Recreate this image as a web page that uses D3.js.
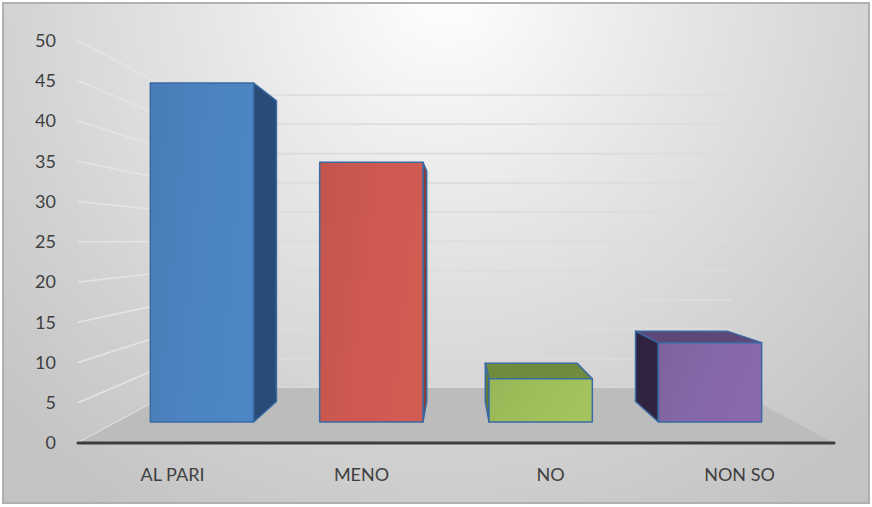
<!DOCTYPE html>
<html>
<head>
<meta charset="utf-8">
<script src="https://cdn.jsdelivr.net/npm/d3@7"></script>
<style>
  html, body { margin: 0; padding: 0; background: #ffffff; }
  svg { display: block; }
  .axis text { font-family: Lato, "Open Sans", sans-serif; fill: #404040; }
</style>
</head>
<body>
<svg id="chart" width="872" height="507"></svg>
<script>
// Survey answers (percent)
const categories = ["AL PARI", "MENO", "NO", "NON SO"];
const values = [47, 36, 6, 11];
const yTicks = [0, 5, 10, 15, 20, 25, 30, 35, 40, 45, 50];

// Face colours per category: front, top, side
const frontColors = ["#4a80bc", "#c9574f", "#9bbb59", "#8265a3"];
const topColors = ["#3a679b", "#a84640", "#6f8b3d", "#5d4879"];
const sideColors = ["#264c77", "#8e3a37", "#5f7a30", "#2f2340"];

const W = 872, H = 507;
const svg = d3.select("#chart");
const defs = svg.append("defs");

// Chart area background: soft radial light from the top centre
const bg = defs.append("radialGradient").attr("id", "bg")
  .attr("gradientUnits", "userSpaceOnUse")
  .attr("cx", 445).attr("cy", -10).attr("r", 620);
[[0, "#ffffff"], [0.12, "#f7f7f7"], [0.4, "#e5e5e5"], [0.7, "#d3d3d3"], [1, "#c3c3c3"]]
  .forEach(([o, c]) => bg.append("stop").attr("offset", o).attr("stop-color", c));

svg.append("rect").attr("x", 3).attr("y", 3).attr("width", 866).attr("height", 500)
  .attr("fill", "url(#bg)").attr("stroke", "#b0b0b0").attr("stroke-width", 2);

// Front-plane scales
const x = d3.scaleBand().domain(categories).range([78, 834])
  .paddingInner(0.39).paddingOuter(0.195);
const y = d3.scaleLinear().domain([0, 50]).range([443, 40.5]);

// Perspective: points shrink towards the vanishing point as depth scale s drops
const VX = 456, VY = 240.8;
const S_FRONT = 1, S_BACK = 0.728;       // floor / walls
const BAR_FRONT = 0.896, BAR_BACK = 0.795; // bar depth
const P = (X, Y, s) => [VX + (X - VX) * s, VY + (Y - VY) * s];
const poly = pts => "M" + pts.map(p => p.join(",")).join("L") + "Z";

const X0 = x.range()[0], X1 = x.range()[1];

// Back wall and side wall gridlines
const grid = svg.append("g");
yTicks.forEach(v => {
  const a = P(X0, y(v), S_BACK), b = P(X1, y(v), S_BACK);
  grid.append("line").attr("x1", a[0]).attr("y1", a[1]).attr("x2", b[0]).attr("y2", b[1])
    .attr("stroke", "#dcdcdc").attr("stroke-width", 1.6);
  const c = P(X0, y(v), S_FRONT);
  grid.append("line").attr("x1", c[0]).attr("y1", c[1]).attr("x2", a[0]).attr("y2", a[1])
    .attr("stroke", "#e4e4e4").attr("stroke-width", 1.6);
});

// Floor
svg.append("path")
  .attr("d", poly([P(X0, y(0), S_FRONT), P(X1, y(0), S_FRONT), P(X1, y(0), S_BACK), P(X0, y(0), S_BACK)]))
  .attr("fill", "#bcbcbc");

// Front edge of the floor
svg.append("line")
  .attr("x1", X0).attr("y1", y(0)).attr("x2", X1).attr("y2", y(0))
  .attr("stroke", "#3c3c3c").attr("stroke-width", 3).attr("stroke-linecap", "round");

// Front face sheen
categories.forEach((c, i) => {
  const g = defs.append("linearGradient").attr("id", "front" + i)
    .attr("x1", 0).attr("y1", 0).attr("x2", 1).attr("y2", 0.3);
  const base = d3.color(frontColors[i]);
  g.append("stop").attr("offset", 0).attr("stop-color", base.darker(0.08));
  g.append("stop").attr("offset", 0.5).attr("stop-color", base.brighter(0.05));
  g.append("stop").attr("offset", 1).attr("stop-color", base.brighter(0.12));
});

// Bars
const bars = svg.append("g");
const bw = x.bandwidth();
categories.forEach((c, i) => {
  const xa = x(c), xb = xa + bw, yt = y(values[i]), yb = y(0);
  const g = bars.append("g").attr("stroke", "#3a6aa3").attr("stroke-width", 1.5)
    .attr("stroke-linejoin", "round");
  if (xb < VX) {
    g.append("path").attr("fill", sideColors[i])
      .attr("d", poly([P(xb, yt, BAR_FRONT), P(xb, yt, BAR_BACK), P(xb, yb, BAR_BACK), P(xb, yb, BAR_FRONT)]));
  }
  if (xa > VX) {
    g.append("path").attr("fill", sideColors[i])
      .attr("d", poly([P(xa, yt, BAR_FRONT), P(xa, yt, BAR_BACK), P(xa, yb, BAR_BACK), P(xa, yb, BAR_FRONT)]));
  }
  if (yt > VY) {
    g.append("path").attr("fill", topColors[i])
      .attr("d", poly([P(xa, yt, BAR_FRONT), P(xb, yt, BAR_FRONT), P(xb, yt, BAR_BACK), P(xa, yt, BAR_BACK)]));
  }
  g.append("path").attr("fill", `url(#front${i})`)
    .attr("d", poly([P(xa, yt, BAR_FRONT), P(xb, yt, BAR_FRONT), P(xb, yb, BAR_FRONT), P(xa, yb, BAR_FRONT)]));
});

// Value axis
const yAxis = svg.append("g").attr("class", "axis")
  .attr("transform", "translate(60,0)")
  .call(d3.axisLeft(y).tickValues(yTicks).tickSize(0).tickPadding(4));
yAxis.select(".domain").remove();
yAxis.selectAll("text").style("font-size", "18px");

// Category axis
const xAxis = svg.append("g").attr("class", "axis")
  .attr("transform", `translate(0,${y(0)})`)
  .call(d3.axisBottom(x).tickSize(0).tickPadding(25));
xAxis.select(".domain").remove();
xAxis.selectAll("text").style("font-size", "18px");
</script>
</body>
</html>
